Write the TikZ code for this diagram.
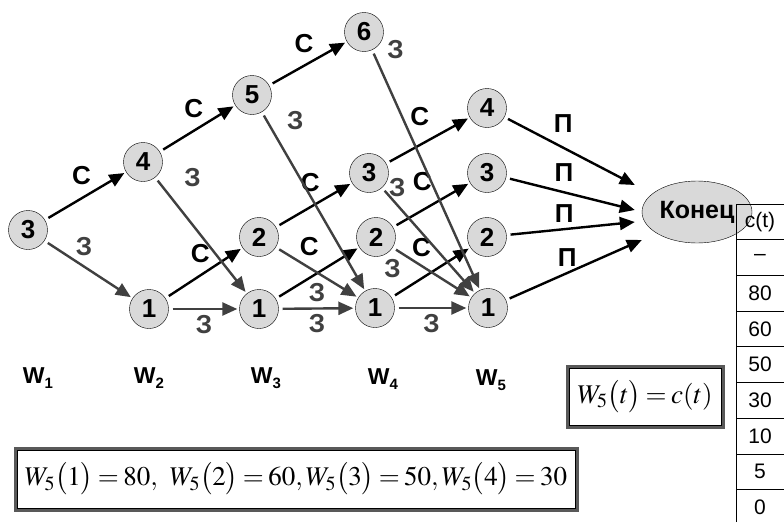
\documentclass[tikz,border=0pt]{standalone}
\usepackage{mathptmx}
\usepackage[no-math]{fontspec}
\setmainfont{Liberation Sans}
\usetikzlibrary{arrows.meta,shapes.geometric}

\newcommand{\wsub}[1]{W\raisebox{-5pt}{\fontsize{15}{15}\selectfont#1}}
\thickmuskip=3mu
\tikzset{
  st/.style={circle,draw,thin,fill=gray!30,minimum size=39pt,inner sep=0pt,
    font=\fontsize{26}{26}\selectfont\bfseries},
  keep/.style={->,line width=2.4pt,black,shorten <=4pt,shorten >=2pt},
  repl/.style={->,line width=2.4pt,black!75,shorten <=4pt,shorten >=2pt},
  lab/.style={inner sep=1pt,font=\fontsize{26}{26}\selectfont\bfseries},
  wlab/.style={font=\fontsize{23}{23}\selectfont\bfseries},
  eqbox/.style={draw=black!65,line width=3pt,inner sep=0pt,
    font=\fontsize{27}{30}\selectfont},
  cell/.style={inner sep=0pt,font=\fontsize{21}{21}\selectfont}
}

\begin{document}
\begin{tikzpicture}[x=1pt,y=-1pt,>={Triangle[length=15pt,width=13pt]}]
\path[use as bounding box,fill=white] (0,0) rectangle (784,522);
% states by year
\node[st] (a3) at (28,230) {3};
\node[st] (b4) at (143,162) {4};\node[st] (b1) at (149,309) {1};
\node[st] (c5) at (252,95) {5};\node[st] (c2) at (259,237) {2};
\node[st] (c1) at (259,309) {1};
\node[st] (d6) at (364,32) {6};\node[st] (d3) at (369,173) {3};
\node[st] (d2) at (376,237) {2};\node[st] (d1) at (375,308) {1};
\node[st] (e4) at (487,108) {4};\node[st] (e3) at (487,173) {3};
\node[st] (e2) at (487,237) {2};\node[st] (e1) at (488,308) {1};
\node[ellipse,draw,thin,fill=gray!30,minimum width=110pt,minimum height=62pt,
  inner sep=0pt,font=\fontsize{25}{25}\selectfont\bfseries] (end) at (697,212) {Конец};
% keep
\draw[keep] (a3)--node[lab,pos=.45,above=11pt]{С}(b4);
\draw[keep] (b4)--node[lab,pos=.45,above=11pt]{С}(c5);
\draw[keep] (c5)--node[lab,pos=.45,above=11pt]{С}(d6);
\draw[keep] (b1)--node[lab,pos=.45,above=11pt]{С}(c2);
\draw[keep] (c2)--node[lab,pos=.45,above=13pt]{С}(d3);
\draw[keep] (c1)--node[lab,pos=.4,above=20pt]{С}(d2);
\draw[keep] (d3)--node[lab,pos=.4,above=17pt]{С}(e4);
\draw[keep] (d2)--node[lab,pos=.38,above=17pt]{С}(e3);
\draw[keep] (d1)--node[lab,pos=.38,above=20pt]{С}(e2);
% replace
\draw[repl] (a3)--node[lab,pos=.45,above=9pt]{З}(b1);
\draw[repl] (b4)--node[lab,pos=0,right=27pt]{З}(c1);
\draw[repl] (c5)--node[lab,pos=.05,right=18pt]{З}(d1);
\draw[repl] (d6)--node[lab,pos=0,right=13pt]{З}(e1);
\draw[repl] (b1)--node[lab,below=4pt]{З}(c1);
\draw[repl] (c1)--node[lab,below=4pt]{З}(d1);
\draw[repl] (d1)--node[lab,below=4pt]{З}(e1);
\draw[repl] (c2)--node[lab,below=9pt]{З}(d1);
\draw[repl] (d3)--node[lab,pos=0,right=5pt]{З}(e1);
\draw[repl] (d2)--node[lab,pos=0,below=10pt]{З}(e1);
% sell
\draw[keep,shorten >=0pt] (e4)--node[lab,pos=.45,above=13pt]{П}([shift={(-7,-27)}]end.west);
\draw[keep,shorten >=0pt] (e3)--node[lab,pos=.45,above=9pt]{П}([shift={(-7,-2)}]end.west);
\draw[keep,shorten >=0pt] (e2)--node[lab,pos=.45,above=4pt]{П}([shift={(-7,10)}]end.west);
\draw[keep,shorten >=0pt] (e1)--node[lab,pos=.45,above=4pt]{П}([shift={(0,28)}]end.west);
% years
\node[wlab] (w1) at (38,378) {\wsub{1}};
\node[wlab] (w2) at (149,378) {\wsub{2}};
\node[wlab] (w3) at (266,378) {\wsub{3}};
\node[wlab] (w4) at (383,379) {\wsub{4}};
\node[wlab] (w5) at (491,380) {\wsub{5}};
% formulas
\node[eqbox,minimum width=562pt,minimum height=62pt] (eq1) at (296,479)
  {$W_5\big(1\big)=80,\;\; W_5\big(2\big)=60, W_5\big(3\big)=50, W_5\big(4\big)=30$};
\node[eqbox,minimum width=156pt,minimum height=61pt] (eq2) at (645,396.5)
  {$W_5\big(t\big)=c(t)$};
\foreach \b in {eq1,eq2}
  \draw[thin] ([shift={(3.5,3.5)}]\b.north west) rectangle ([shift={(-3.5,-3.5)}]\b.south east);
% table c(t)
\draw[thick] (736,522)--(736,204)--(784,204);
\foreach \i in {1,...,8} \draw[thick] (736,204+35.7*\i)--(784,204+35.7*\i);
\foreach \v [count=\i from 0] in {c(t),–,80,60,50,30,10,5,0}
  \node[cell] (t\i) at (760,221.85+35.7*\i) {\v};
\end{tikzpicture}
\end{document}
